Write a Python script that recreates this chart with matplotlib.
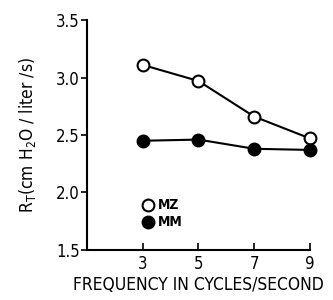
import matplotlib
matplotlib.use("Agg")
import matplotlib.pyplot as plt

freq = [3, 5, 7, 9]
mz = [3.11, 2.97, 2.66, 2.47]
mm = [2.45, 2.46, 2.38, 2.37]
yticks = [1.5, 2.0, 2.5, 3.0, 3.5]
ytick_labels = ["1.5", "2.0", "2.5", "3.0", "3.5"]
xticks = [3, 5, 7, 9]

plt.rcParams['font.family'] = ["DejaVu Sans"]
plt.rcParams['font.stretch'] = 'condensed'
plt.rcParams['mathtext.fontset'] = 'custom'
plt.rcParams['mathtext.rm'] = 'DejaVu Sans:stretch=condensed'

fig = plt.figure(figsize=(3.33, 3.0), dpi=100)
ax = fig.add_axes([0.261, 0.167, 0.67, 0.766])

ax.plot(freq, mz, color='black', lw=1.5, marker='o', ms=8.5, mfc='white', mec='black', mew=1.5, zorder=3, clip_on=False)
ax.plot(freq, mm, color='black', lw=1.5, marker='o', ms=8.5, mfc='black', mec='black', mew=1.5, zorder=3, clip_on=False)

ax.set_xlim(1, 9)
ax.set_ylim(1.5, 3.5)
ax.set_yticks(yticks)
ax.set_yticklabels(ytick_labels)
ax.set_xticks(xticks)
ax.spines['top'].set_visible(False)
ax.spines['right'].set_visible(False)
ax.spines['left'].set_linewidth(1.5)
ax.spines['bottom'].set_linewidth(1.5)
ax.tick_params(axis='y', direction='out', length=4, width=1.2, labelsize=12, pad=1)
ax.tick_params(axis='x', direction='in', length=5, width=1.2, labelsize=12, pad=4)

ax.set_xlabel("FREQUENCY IN CYCLES/SECOND", fontsize=12.5, labelpad=2)
ax.set_ylabel(r"R$_\mathregular{T}$(cm H$_\mathregular{2}$O / liter /s)", fontsize=12.5, labelpad=13)

# legend
ax.plot([3.2], [1.89], marker='o', ms=8.5, mfc='white', mec='black', mew=1.5, ls='none', clip_on=False)
ax.plot([3.2], [1.74], marker='o', ms=8.5, mfc='black', mec='black', mew=1.5, ls='none', clip_on=False)
ax.text(3.55, 1.89, "MZ", fontsize=10, fontweight='bold', va='center', ha='left')
ax.text(3.55, 1.74, "MM", fontsize=10, fontweight='bold', va='center', ha='left')

fig.savefig("out.png", dpi=100)
